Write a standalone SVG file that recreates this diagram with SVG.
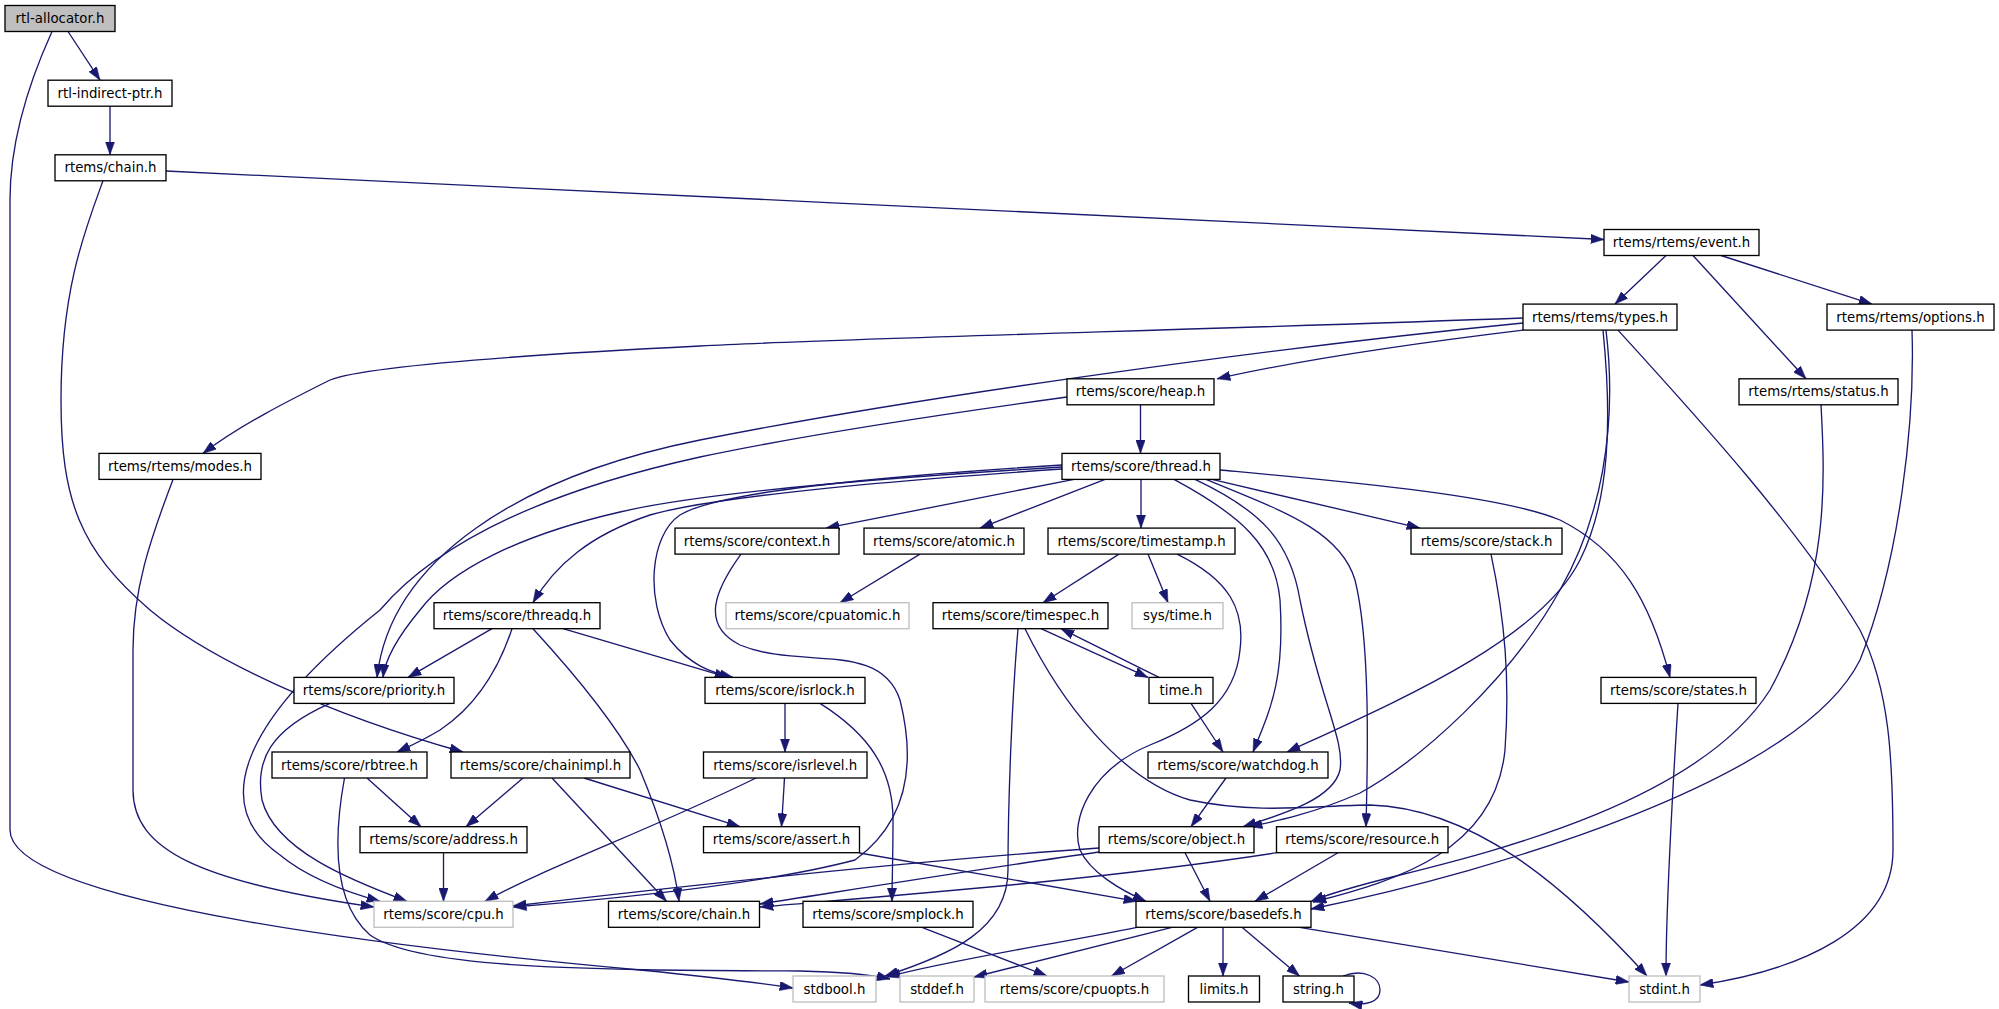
<svg xmlns="http://www.w3.org/2000/svg" width="1999" height="1009" viewBox="0 0 1999 1009">
<style>
.node rect{fill:#fff;stroke:#000;stroke-width:1.33}
.ext rect{stroke:#bfbfbf}
.root rect{fill:#bfbfbf}
text{font-family:"DejaVu Sans","Liberation Sans",sans-serif;font-size:13.33px;text-anchor:middle;fill:#000}
#edges path{fill:none;stroke:#191970;stroke-width:1.33;marker-end:url(#arr)}
</style>
<defs>
<marker id="arr" viewBox="0 0 13.3 9.34" refX="13.3" refY="4.67" markerWidth="13.3" markerHeight="9.34" markerUnits="userSpaceOnUse" orient="auto">
<path d="M0,0 L13.3,4.67 L0,9.34 z" fill="#191970" stroke="#191970" stroke-width="0.5"/>
</marker>
</defs>
<rect width="1999" height="1009" fill="#fff"/>
<g id="edges">
<path d="M68,31.5 L100,80.2"/>
<path d="M52,31.5 C30,80 10,140 10,200 L10,830 C10,905 420,950 640,970 C700,976 760,983 793,988"/>
<path d="M110,106.2 L110,154.8"/>
<path d="M166,171 C600,192 1200,220 1604,239.5"/>
<path d="M103,180.8 C85,230 61,290 61,400 C61,500 80,550 150,610 C210,660 330,715 463,752"/>
<path d="M1666,255.5 L1615,304.1"/>
<path d="M1693,255.5 L1806,378.8"/>
<path d="M1721,255.5 L1872,304.1"/>
<path d="M1523,330.1 C1400,345 1300,360 1217,378.8"/>
<path d="M1523,318 C1200,330 850,338 700,346 C480,357 360,368 330,380 C290,400 240,425 203,453.4"/>
<path d="M1523,323 C1250,350 900,400 700,440 C520,476 390,560 377,677.4"/>
<path d="M1067,397 C900,420 780,440 700,457 C550,490 440,540 380,610 C230,730 215,810 280,855 C310,880 350,893 380,901.3"/>
<path d="M1603,330.1 C1612,420 1610,500 1580,560 C1540,640 1400,700 1287,752"/>
<path d="M1606,330.1 C1618,430 1600,520 1560,590 C1510,680 1420,760 1360,793 C1310,815 1272,822 1249,826.7"/>
<path d="M1618,330.1 C1700,420 1800,530 1860,630 C1890,690 1893,760 1893,850 C1893,930 1800,970 1700,985"/>
<path d="M1140.5,404.8 L1140.5,453.4"/>
<path d="M173,479.4 C150,540 133,590 133,650 L133,790 C133,850 200,882 374,907"/>
<path d="M1821,404.8 C1825,480 1830,580 1770,690 C1700,800 1500,850 1400,875 C1360,885 1330,893 1311,901.5"/>
<path d="M1912,330.1 C1915,420 1900,560 1860,660 C1800,780 1500,870 1311,909"/>
<path d="M1491,554.1 C1505,620 1510,680 1505,750 C1495,850 1400,880 1313,902"/>
<path d="M1074,479.4 L826,528.1"/>
<path d="M1105,479.4 L980,528.1"/>
<path d="M1141,479.4 L1141,528.1"/>
<path d="M1212,479.4 L1420,528.1"/>
<path d="M1220,470 C1350,482 1500,495 1560,520 C1620,550 1650,600 1670,677.4"/>
<path d="M1174,479.4 C1240,515 1275,545 1280,600 C1285,680 1270,710 1253,752"/>
<path d="M1195,479.4 C1260,510 1290,540 1300,600 C1320,700 1345,740 1340,770 C1333,800 1280,815 1243,826.7"/>
<path d="M1206,479.4 C1280,510 1340,530 1355,580 C1370,640 1368,750 1366,826.7"/>
<path d="M1062,469 C900,480 720,495 650,515 C590,535 555,565 533,602.7"/>
<path d="M1062,467 C880,478 700,493 620,512 C520,535 450,570 420,610 C395,640 385,660 383,677.4"/>
<path d="M1062,465 C900,475 720,490 680,515 C650,535 645,600 670,640 C690,665 710,672 733,677.4"/>
<path d="M1119,554.1 L1043,602.7"/>
<path d="M1148,554.1 L1168,602.7"/>
<path d="M1177,554.1 C1230,580 1245,610 1240,650 C1235,700 1200,725 1150,745 C1090,770 1070,820 1080,850 C1090,872 1120,890 1146,901.3"/>
<path d="M920,554.1 L840,602.7"/>
<path d="M741,554.1 C715,590 700,625 740,645 C800,670 880,640 900,700 C915,760 910,820 855,860 C760,885 600,900 513,907"/>
<path d="M1041,628.7 L1148,677.4"/>
<path d="M1159,677.4 L1061,628.7"/>
<path d="M1018,628.7 C1012,700 1008,800 1008,870 C1008,930 950,955 885,976"/>
<path d="M1025,628.7 C1060,700 1120,780 1190,800 C1260,815 1320,805 1370,805 C1470,808 1560,880 1647,976"/>
<path d="M1191,703.4 L1223,752"/>
<path d="M492,628.7 L408,677.4"/>
<path d="M512,628.7 C495,680 470,710 440,730 C420,742 410,746 397,752"/>
<path d="M533,628.7 C580,680 620,730 640,770 C665,830 675,870 679,901.3"/>
<path d="M563,628.7 L728,677.4"/>
<path d="M785,703.4 L785,752"/>
<path d="M820,703.4 C870,735 893,770 893,820 C893,860 892,880 892,901.3"/>
<path d="M756,778 C650,830 540,870 485,901.3"/>
<path d="M784.5,778 L781.5,826.7"/>
<path d="M523,778 L466,826.7"/>
<path d="M552,778 L666.5,901.3"/>
<path d="M584,778 L740,826.7"/>
<path d="M367,778 L421,826.7"/>
<path d="M344.5,778 C335,830 330,900 370,935 C420,970 600,970 800,971 C850,972 872,975 890,979"/>
<path d="M443.5,852.7 L443.5,901.3"/>
<path d="M859.5,853 L1137,901.3"/>
<path d="M1099,848 C900,862 650,890 513,906"/>
<path d="M1099,852 C1000,866 850,890 760,904"/>
<path d="M1277,852.7 C1100,880 900,895 760,907"/>
<path d="M1185,852.7 L1210,901.3"/>
<path d="M1338,852.7 L1255,901.3"/>
<path d="M1226,778 L1191,826.7"/>
<path d="M330,703.4 C270,730 255,760 262,800 C275,850 350,880 407,901.3"/>
<path d="M922,927.3 L1047,976"/>
<path d="M1137,927.3 C1050,945 950,960 887,977"/>
<path d="M1172,927.3 L974,977"/>
<path d="M1197.5,927.3 L1111.5,976"/>
<path d="M1223,927.3 L1223,976"/>
<path d="M1242,927.3 L1299.5,976"/>
<path d="M1299.5,927.3 L1629,982"/>
<path d="M1343,976 C1365,968 1380,978 1380,990 C1380,1002 1366,1006 1349,1003"/>
<path d="M1678,703.4 C1672,800 1666,900 1666,976"/>
</g>
<g id="n1" class="node root"><rect x="5" y="5.5" width="110" height="26"/><text x="60" y="23.1">rtl-allocator.h</text></g>
<g id="n2" class="node"><rect x="48" y="80.2" width="124" height="26"/><text x="110" y="97.8">rtl-indirect-ptr.h</text></g>
<g id="n3" class="node"><rect x="55" y="154.8" width="111" height="26"/><text x="110.5" y="172.4">rtems/chain.h</text></g>
<g id="n4" class="node"><rect x="1604" y="229.5" width="155" height="26"/><text x="1681.5" y="247.1">rtems/rtems/event.h</text></g>
<g id="n5" class="node"><rect x="1523" y="304.1" width="154" height="26"/><text x="1600" y="321.7">rtems/rtems/types.h</text></g>
<g id="n6" class="node"><rect x="1827" y="304.1" width="167" height="26"/><text x="1910.5" y="321.7">rtems/rtems/options.h</text></g>
<g id="n7" class="node"><rect x="1739" y="378.8" width="159" height="26"/><text x="1818.5" y="396.4">rtems/rtems/status.h</text></g>
<g id="n8" class="node"><rect x="1067" y="378.8" width="147" height="26"/><text x="1140.5" y="396.4">rtems/score/heap.h</text></g>
<g id="n9" class="node"><rect x="99" y="453.4" width="162" height="26"/><text x="180" y="471">rtems/rtems/modes.h</text></g>
<g id="n10" class="node"><rect x="1062" y="453.4" width="158" height="26"/><text x="1141" y="471">rtems/score/thread.h</text></g>
<g id="n11" class="node"><rect x="675" y="528.1" width="164" height="26"/><text x="757" y="545.7">rtems/score/context.h</text></g>
<g id="n12" class="node"><rect x="864" y="528.1" width="160" height="26"/><text x="944" y="545.7">rtems/score/atomic.h</text></g>
<g id="n13" class="node"><rect x="1048" y="528.1" width="187" height="26"/><text x="1141.5" y="545.7">rtems/score/timestamp.h</text></g>
<g id="n14" class="node"><rect x="1411" y="528.1" width="151" height="26"/><text x="1486.5" y="545.7">rtems/score/stack.h</text></g>
<g id="n15" class="node"><rect x="434" y="602.7" width="166" height="26"/><text x="517" y="620.3">rtems/score/threadq.h</text></g>
<g id="n16" class="node ext"><rect x="726" y="602.7" width="183" height="26"/><text x="817.5" y="620.3">rtems/score/cpuatomic.h</text></g>
<g id="n17" class="node"><rect x="933" y="602.7" width="175" height="26"/><text x="1020.5" y="620.3">rtems/score/timespec.h</text></g>
<g id="n18" class="node ext"><rect x="1132" y="602.7" width="91" height="26"/><text x="1177.5" y="620.3">sys/time.h</text></g>
<g id="n19" class="node"><rect x="294" y="677.4" width="160" height="26"/><text x="374" y="695">rtems/score/priority.h</text></g>
<g id="n20" class="node"><rect x="705" y="677.4" width="160" height="26"/><text x="785" y="695">rtems/score/isrlock.h</text></g>
<g id="n21" class="node"><rect x="1149" y="677.4" width="64" height="26"/><text x="1181" y="695">time.h</text></g>
<g id="n22" class="node"><rect x="1601" y="677.4" width="155" height="26"/><text x="1678.5" y="695">rtems/score/states.h</text></g>
<g id="n23" class="node"><rect x="272" y="752" width="155" height="26"/><text x="349.5" y="769.6">rtems/score/rbtree.h</text></g>
<g id="n24" class="node"><rect x="451" y="752" width="179" height="26"/><text x="540.5" y="769.6">rtems/score/chainimpl.h</text></g>
<g id="n25" class="node"><rect x="703.5" y="752" width="163.5" height="26"/><text x="785.2" y="769.6">rtems/score/isrlevel.h</text></g>
<g id="n26" class="node"><rect x="1148" y="752" width="180" height="26"/><text x="1238" y="769.6">rtems/score/watchdog.h</text></g>
<g id="n27" class="node"><rect x="360" y="826.7" width="167" height="26"/><text x="443.5" y="844.3">rtems/score/address.h</text></g>
<g id="n28" class="node"><rect x="703.5" y="826.7" width="156" height="26"/><text x="781.5" y="844.3">rtems/score/assert.h</text></g>
<g id="n29" class="node"><rect x="1099" y="826.7" width="155" height="26"/><text x="1176.5" y="844.3">rtems/score/object.h</text></g>
<g id="n30" class="node"><rect x="1276.5" y="826.7" width="171.5" height="26"/><text x="1362.2" y="844.3">rtems/score/resource.h</text></g>
<g id="n31" class="node ext"><rect x="374" y="901.3" width="139" height="26"/><text x="443.5" y="918.9">rtems/score/cpu.h</text></g>
<g id="n32" class="node"><rect x="608.5" y="901.3" width="151" height="26"/><text x="684" y="918.9">rtems/score/chain.h</text></g>
<g id="n33" class="node"><rect x="803" y="901.3" width="170" height="26"/><text x="888" y="918.9">rtems/score/smplock.h</text></g>
<g id="n34" class="node"><rect x="1136" y="901.3" width="175" height="26"/><text x="1223.5" y="918.9">rtems/score/basedefs.h</text></g>
<g id="n35" class="node ext"><rect x="793" y="976" width="83" height="26"/><text x="834.5" y="993.6">stdbool.h</text></g>
<g id="n36" class="node ext"><rect x="900" y="976" width="74" height="26"/><text x="937" y="993.6">stddef.h</text></g>
<g id="n37" class="node ext"><rect x="985" y="976" width="179" height="26"/><text x="1074.5" y="993.6">rtems/score/cpuopts.h</text></g>
<g id="n38" class="node"><rect x="1188.5" y="976" width="71" height="26"/><text x="1224" y="993.6">limits.h</text></g>
<g id="n39" class="node"><rect x="1283" y="976" width="71" height="26"/><text x="1318.5" y="993.6">string.h</text></g>
<g id="n40" class="node ext"><rect x="1629" y="976" width="71" height="26"/><text x="1664.5" y="993.6">stdint.h</text></g>
</svg>
